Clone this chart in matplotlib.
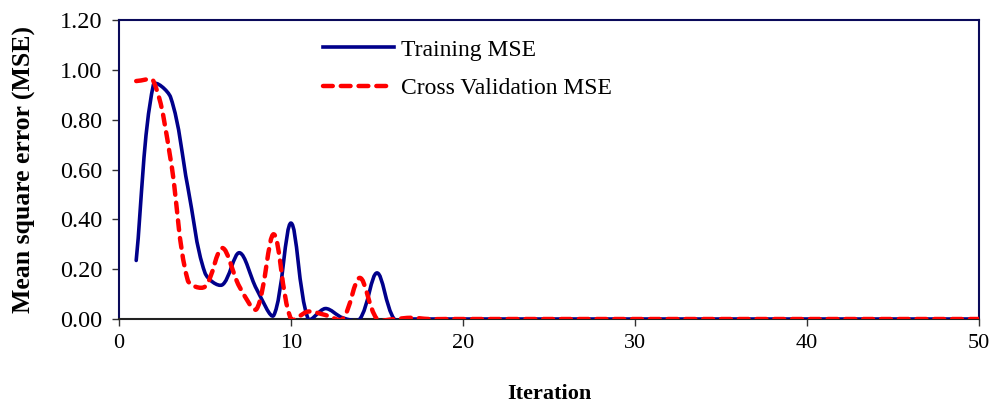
import numpy as np
import matplotlib
matplotlib.use('Agg')
import matplotlib.pyplot as plt
from matplotlib.path import Path
from matplotlib.patches import PathPatch
from matplotlib.lines import Line2D

plt.rcParams['font.family'] = ['Liberation Serif', 'DejaVu Serif']

iterations = np.arange(1, 51)
training_mse = [0.235, 0.94, 0.89, 0.53, 0.185, 0.137, 0.266, 0.12, 0.015, 0.385,
                0.0, 0.042, 0.005, 0.0, 0.185, 0.0] + [0.0] * 34
cv_mse = [0.955, 0.955, 0.64, 0.155, 0.13, 0.285, 0.13, 0.04, 0.34, 0.0,
          0.03, 0.016, 0.0, 0.165, 0.0, 0.0, 0.005] + [0.0] * 33

# rough pixel size of one data unit, used to weigh the smoothing like Excel
PX_X, PX_Y = 17.2, 249.0


def smooth_path(x, y):
    # Excel-like smoothed line: bezier with tangents split by segment length
    pts = np.column_stack([x, y]).astype(float)
    n = len(pts)
    scr = pts * [PX_X, PX_Y]
    seg = np.hypot(*np.diff(scr, axis=0).T)
    out_ctrl, in_ctrl = [], []
    for i in range(n):
        prev_p = pts[max(i - 1, 0)]
        next_p = pts[min(i + 1, n - 1)]
        tang = next_p - prev_p
        d_prev = seg[i - 1] if i > 0 else 0.0
        d_next = seg[i] if i < n - 1 else 0.0
        tot = d_prev + d_next
        if tot == 0:
            out_ctrl.append(pts[i])
            in_ctrl.append(pts[i])
            continue
        out_ctrl.append(pts[i] + tang * d_next / tot / 3.0)
        in_ctrl.append(pts[i] - tang * d_prev / tot / 3.0)
    verts = [pts[0]]
    codes = [Path.MOVETO]
    for i in range(n - 1):
        verts += [out_ctrl[i], in_ctrl[i + 1], pts[i + 1]]
        codes += [Path.CURVE4] * 3
    return Path(verts, codes)


fig = plt.figure(figsize=(9.9, 4.05), dpi=100)
ax = fig.add_axes([0.1202, 0.2123, 0.8687, 0.7383])

navy = '#00008B'
red = '#FF0000'
dash = (0, (2.2, 1.8))

ax.add_patch(PathPatch(smooth_path(iterations, training_mse), fill=False,
                       edgecolor=navy, linewidth=2.6, zorder=3,
                       capstyle='round', joinstyle='round'))
ax.add_patch(PathPatch(smooth_path(iterations, cv_mse), fill=False,
                       edgecolor=red, linewidth=3.2, linestyle=dash,
                       zorder=4, capstyle='round', joinstyle='round'))

ax.set_xlim(0, 50)
ax.set_ylim(0, 1.2)
ax.set_xticks([0, 10, 20, 30, 40, 50])
ax.set_yticks(np.arange(0, 1.21, 0.2))
ax.set_yticklabels([f'{v:.2f}' for v in np.arange(0, 1.21, 0.2)])
ax.tick_params(axis='y', labelsize=17.5, length=5, width=1, color='#333333', pad=7)
ax.tick_params(axis='x', labelsize=16, length=5, width=1, color='#333333', pad=6)

for side in ['top', 'right', 'left']:
    ax.spines[side].set_color('#0a0a5a')
    ax.spines[side].set_linewidth(1.5)
ax.spines['bottom'].set_color('#222222')
ax.spines['bottom'].set_linewidth(1.5)

ax.set_xlabel('Iteration', fontsize=16, fontweight='bold', labelpad=22)
ax.set_ylabel('Mean square error (MSE)', fontsize=18.5, fontweight='bold', labelpad=17)

handles = [Line2D([0], [0], color=navy, lw=2.6),
           Line2D([0], [0], color=red, lw=3.2, linestyle=dash,
                  dash_capstyle='round')]
ax.legend(handles, ['Training MSE', 'Cross Validation MSE'], loc='upper left',
          bbox_to_anchor=(0.2125, 1.007), frameon=False, fontsize=17,
          handlelength=3.0, handletextpad=0.3, labelspacing=0.72)

fig.savefig('out.png', dpi=100)
